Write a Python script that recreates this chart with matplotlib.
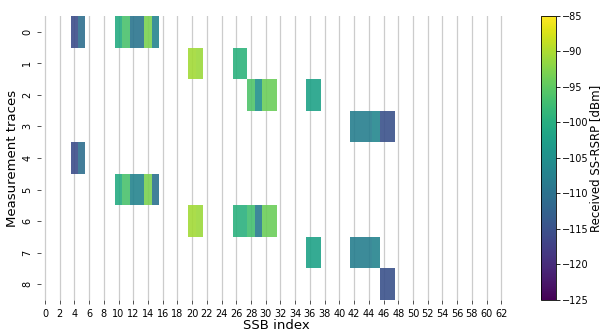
import numpy as np
import matplotlib
matplotlib.use("Agg")
import matplotlib.pyplot as plt

matplotlib.rcParams.update({
    "font.family": "DejaVu Sans",
    "font.size": 7,
})

N_SSB = 64
N_TRACES = 9

# SSB indices seen in each measurement trace and their SS-RSRP [dBm]
trace_ssb = [
    [4, 5, 10, 11, 12, 13, 14, 15],
    [20, 21, 26, 27],
    [28, 29, 30, 31, 36, 37],
    [42, 43, 44, 45, 46, 47],
    [4, 5],
    [10, 11, 12, 13, 14, 15],
    [20, 21, 26, 27, 28, 29, 30, 31],
    [36, 37, 42, 43, 44, 45],
    [46, 47],
]
trace_rsrp = [
    [-115.5, -110.5, -100.5, -96.5, -109.5, -109.5, -93.0, -107.0],
    [-90.5, -91.0, -99.5, -99.0],
    [-96.0, -105.0, -94.0, -94.0, -102.0, -102.0],
    [-108.0, -108.0, -108.0, -106.5, -115.0, -115.0],
    [-115.5, -110.5],
    [-100.5, -96.5, -107.0, -107.0, -93.0, -110.0],
    [-90.5, -91.0, -99.5, -99.5, -97.0, -108.5, -94.0, -94.0],
    [-102.0, -102.0, -108.0, -108.0, -108.0, -107.0],
    [-115.0, -115.0],
]

VMIN, VMAX = -125, -85

grid = np.full((N_TRACES, N_SSB), np.nan)
for row, (ssb, rsrp) in enumerate(zip(trace_ssb, trace_rsrp)):
    grid[row, ssb] = rsrp

fig = plt.figure(figsize=(6.01, 3.31), dpi=100)
ax = fig.add_axes([0.0687, 0.0937, 0.7837, 0.858])
cax = fig.add_axes([0.900, 0.0937, 0.025, 0.858])

x_edges = np.arange(N_SSB + 1) - 0.5
y_edges = np.arange(N_TRACES + 1) - 0.5
mesh = ax.pcolormesh(x_edges, y_edges, np.ma.masked_invalid(grid),
                     cmap="viridis", vmin=VMIN, vmax=VMAX,
                     alpha=0.9, zorder=2)

ax.set_xlim(-0.5, N_SSB - 0.5)
ax.set_ylim(N_TRACES - 0.5, -0.5)

ax.set_xticks(np.arange(0, N_SSB, 2))
ax.set_yticks(np.arange(N_TRACES))
ax.set_yticklabels([str(i) for i in range(N_TRACES)], rotation=90, va="center")
ax.tick_params(axis="both", labelsize=7, length=3, width=0.6, color="#333333")

ax.grid(axis="x", color="#cccccc", linewidth=0.9, zorder=1)
ax.set_axisbelow(True)
for sp in ax.spines.values():
    sp.set_visible(False)

ax.set_xlabel("SSB index", fontsize=9.5, labelpad=0)
ax.set_ylabel("Measurement traces", fontsize=9.5, labelpad=2)

cb = fig.colorbar(mesh, cax=cax)
cb.solids.set_alpha(1)
cb.set_ticks(np.arange(VMIN, VMAX + 1, 5))
cb.ax.tick_params(labelsize=7, length=3, width=0.6, pad=1.5)
cb.outline.set_linewidth(0.6)
cb.set_label("Received SS-RSRP [dBm]", fontsize=8.5, labelpad=0)

fig.savefig("out.png", dpi=100)
